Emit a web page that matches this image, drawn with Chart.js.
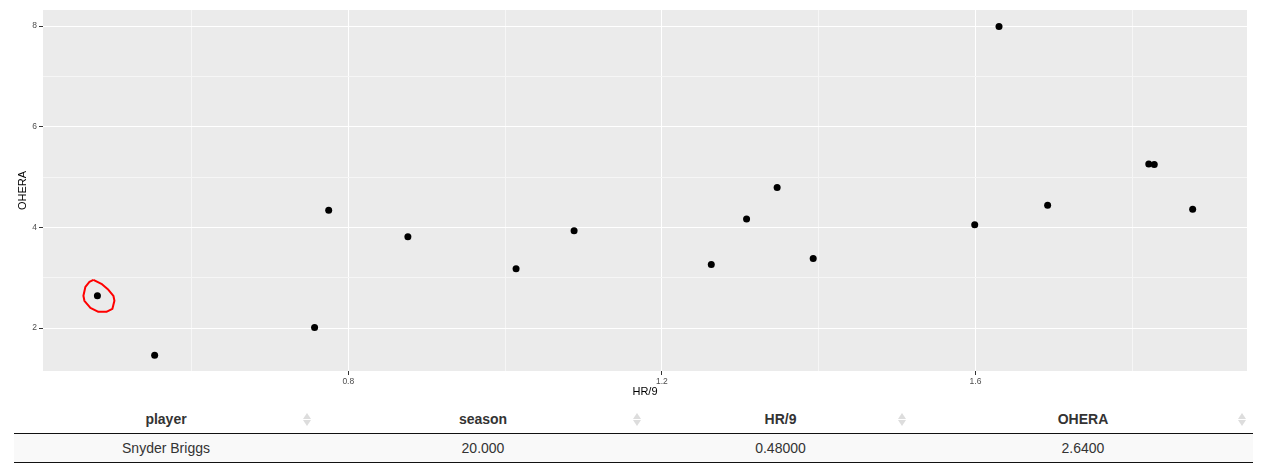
<!DOCTYPE html>
<html>
<head>
<meta charset="utf-8">
<script src="https://cdn.jsdelivr.net/npm/chart.js@4.4.1/dist/chart.umd.min.js"></script>
<style>
  body { margin: 0; background: #fff; font-family: "Liberation Sans", Arial, sans-serif; }
  #wrap { position: absolute; left: 0; top: 0; width: 1264px; height: 400px; }
  table { position: absolute; left: 14px; top: 405px; width: 1239px; border-collapse: separate; border-spacing: 0; color: #333; font-size: 14px; }
  th { height: 28px; padding: 0; font-weight: bold; text-align: center; border-bottom: 1px solid #111; position: relative; }
  td { height: 28px; padding: 0; text-align: center; background: #f9f9f9; border-bottom: 1px solid #111; }
  .sort { position: absolute; right: 7px; top: 8px; width: 8px; height: 13px; }
  .sort:before, .sort:after { content: ''; position: absolute; left: 0; border-left: 4px solid transparent; border-right: 4px solid transparent; }
  .sort:before { top: 0; border-bottom: 6px solid #ddd; }
  .sort:after { top: 7px; border-top: 6px solid #ddd; }
</style>
</head>
<body>
<div id="wrap"><canvas id="chart"></canvas></div>
<table id="tbl"><thead><tr id="head"></tr></thead><tbody><tr id="row"></tr></tbody></table>
<script>
'use strict';

// scatter data (HR/9 vs OHERA)
const hr9 = [0.48, 0.553, 0.757, 0.775, 0.876, 1.014, 1.088, 1.263, 1.308, 1.347, 1.393, 1.599, 1.630, 1.692, 1.821, 1.828, 1.877];
const ohera = [2.64, 1.46, 2.01, 4.34, 3.815, 3.177, 3.93, 3.263, 4.165, 4.79, 3.38, 4.05, 7.99, 4.44, 5.26, 5.25, 4.36];

// axis ticks
const xMajor = [0.8, 1.2, 1.6];
const xMinor = [0.6, 1.0, 1.4, 1.8];
const yMajor = [2, 4, 6, 8];
const yMinor = [3, 5, 7];

// table
const tableCols = ['player', 'season', 'HR/9', 'OHERA'];
const tableRow = ['Snyder Briggs', '20.000', '0.48000', '2.6400'];
const colWidths = [304, 330, 265, 340];

// selected point (circled)
const selected = 0;

let points = [];
for (let i = 0; i < hr9.length; i++) {
  points.push({x: hr9[i], y: ohera[i]});
}

function isMajor(list, v) {
  return list.some(m => Math.abs(m - v) < 1e-6);
}

const panelBg = {
  id: 'panelBg',
  beforeDraw(chart) {
    const a = chart.chartArea;
    const ctx = chart.ctx;
    ctx.save();
    ctx.fillStyle = '#ebebeb';
    ctx.fillRect(a.left, a.top, a.right - a.left, a.bottom - a.top);
    ctx.restore();
  }
};

// hand drawn red ring round the selected point
const ring = {
  id: 'ring',
  afterDatasetsDraw(chart) {
    const px = chart.scales.x.getPixelForValue(hr9[selected]);
    const py = chart.scales.y.getPixelForValue(ohera[selected]);
    const path = [[-4, -16], [4, -12], [11, -6], [16, 0], [17, 5], [15, 13], [9, 16], [1, 16], [-7, 12], [-13, 5], [-14, 0], [-12, -9], [-8, -14], [-4, -16]];
    const ctx = chart.ctx;
    ctx.save();
    ctx.strokeStyle = '#ff0000';
    ctx.lineWidth = 2;
    ctx.lineJoin = 'round';
    ctx.beginPath();
    path.forEach((p, i) => {
      if (i === 0) ctx.moveTo(px + p[0], py + p[1]);
      else ctx.lineTo(px + p[0], py + p[1]);
    });
    ctx.stroke();
    ctx.restore();
  }
};

const tickFont = {family: '"Liberation Sans", Arial, sans-serif', size: 8.5};
const titleFont = {family: '"Liberation Sans", Arial, sans-serif', size: 11};

const ctx = document.getElementById('chart').getContext('2d');
const myChart = new Chart(ctx, {
  type: 'scatter',
  data: {
    datasets: [{
      data: points,
      backgroundColor: '#000000',
      borderWidth: 0,
      pointRadius: 3.5,
      pointHoverRadius: 3.5
    }]
  },
  options: {
    responsive: true,
    maintainAspectRatio: false,
    animation: false,
    layout: {padding: {left: 0, top: 10, right: 17, bottom: 0}},
    plugins: {legend: {display: false}, tooltip: {enabled: false}},
    scales: {
      x: {
        type: 'linear',
        min: 0.4106,
        max: 1.9463,
        afterBuildTicks: function (scale) {
          scale.ticks = xMajor.concat(xMinor).sort((a, b) => a - b).map(v => ({value: v}));
        },
        afterFit: function (scale) { scale.height = 29; },
        border: {display: false},
        grid: {
          color: c => isMajor(xMajor, c.tick.value) ? '#ffffff' : '#f6f6f6',
          lineWidth: 1,
          tickColor: c => isMajor(xMajor, c.tick.value) ? '#333333' : 'rgba(0,0,0,0)',
          tickLength: 4
        },
        ticks: {
          color: '#4d4d4d',
          font: tickFont,
          padding: 2,
          maxRotation: 0,
          autoSkip: false,
          callback: v => isMajor(xMajor, v) ? v.toFixed(1) : ''
        },
        title: {display: true, text: 'HR/9', color: '#000', font: titleFont, padding: {top: 0, bottom: 1.4}}
      },
      y: {
        type: 'linear',
        min: 1.146,
        max: 8.318,
        afterBuildTicks: function (scale) {
          scale.ticks = yMajor.concat(yMinor).sort((a, b) => a - b).map(v => ({value: v}));
        },
        afterFit: function (scale) { scale.width = 43; },
        border: {display: false},
        grid: {
          color: c => isMajor(yMajor, c.tick.value) ? '#ffffff' : '#f6f6f6',
          lineWidth: 1,
          tickColor: c => isMajor(yMajor, c.tick.value) ? '#333333' : 'rgba(0,0,0,0)',
          tickLength: 4
        },
        ticks: {
          color: '#4d4d4d',
          font: tickFont,
          padding: 2,
          autoSkip: false,
          callback: v => isMajor(yMajor, v) ? String(v) : ''
        },
        title: {display: true, text: 'OHERA', color: '#000', font: titleFont, padding: {top: 16, bottom: 0}}
      }
    }
  },
  plugins: [panelBg, ring]
});

// table below the chart
const head = document.getElementById('head');
const row = document.getElementById('row');
for (let i = 0; i < tableCols.length; i++) {
  let th = document.createElement('th');
  th.style.width = colWidths[i] + 'px';
  th.textContent = tableCols[i];
  let s = document.createElement('span');
  s.className = 'sort';
  th.appendChild(s);
  head.appendChild(th);
  let td = document.createElement('td');
  td.textContent = tableRow[i];
  row.appendChild(td);
}
</script>
</body>
</html>
